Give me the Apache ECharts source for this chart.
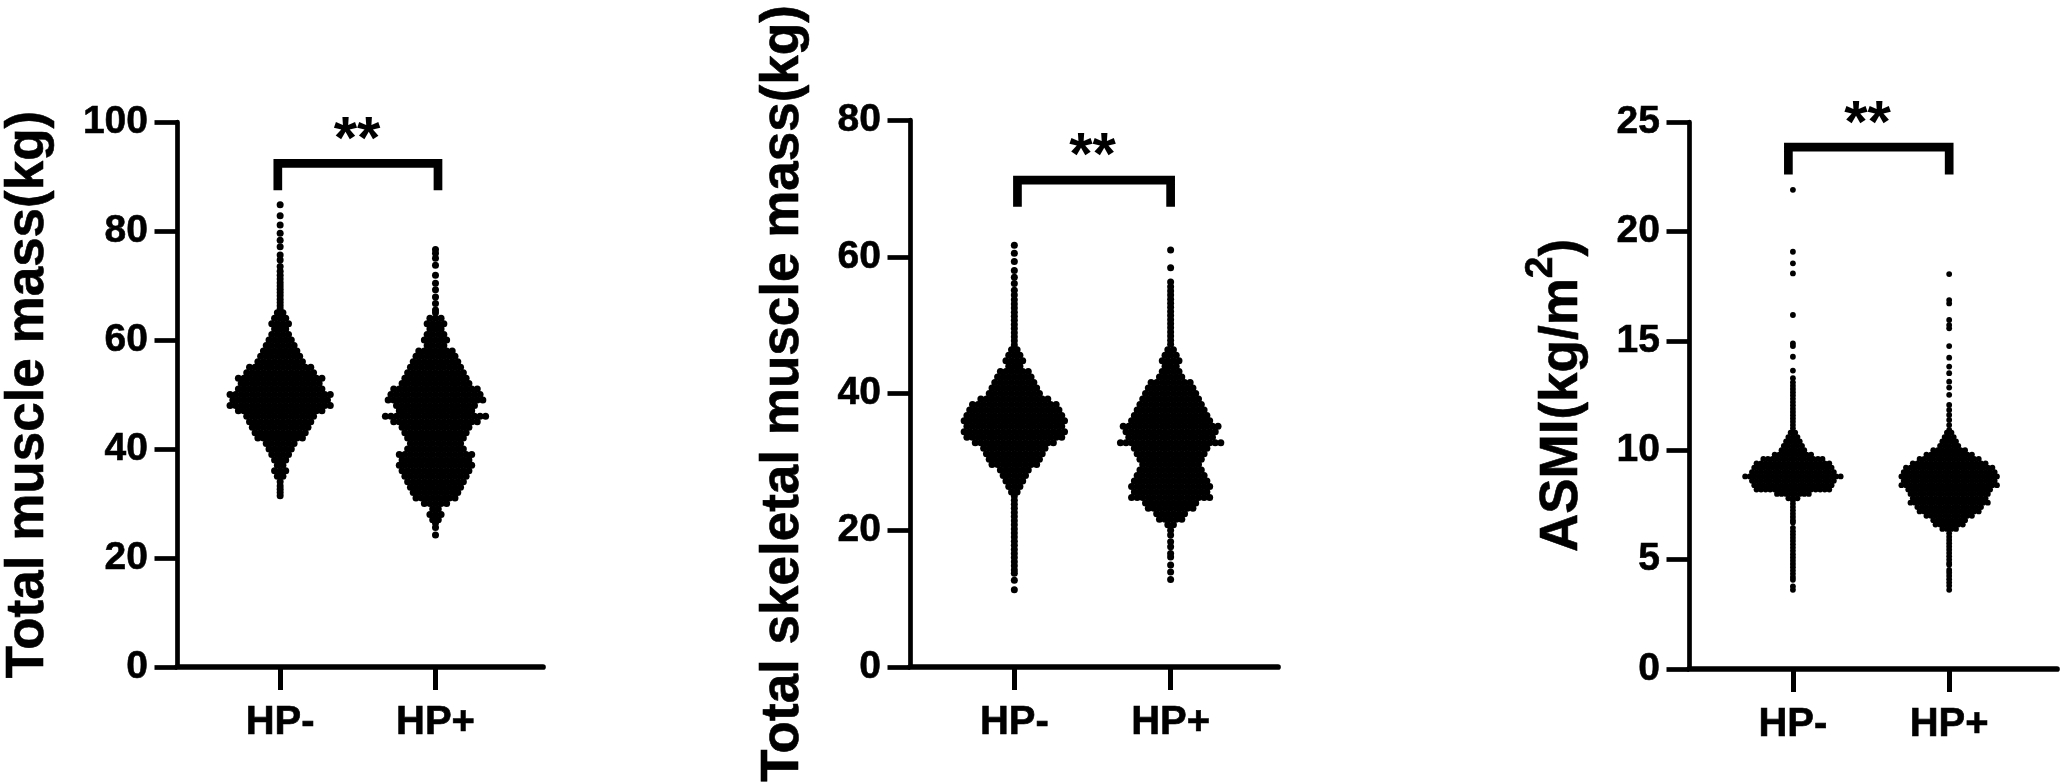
<!DOCTYPE html>
<html>
<head>
<meta charset="utf-8">
<title>Muscle mass by HP status</title>
<script src="https://cdn.jsdelivr.net/npm/echarts@6/dist/echarts.min.js"></script>
<style>
html, body { margin: 0; padding: 0; background: #fff; }
#main { width: 2062px; height: 782px; }
</style>
</head>
<body>
<div id="main"></div>
<script>
var categories = ['HP-', 'HP+'];

// every row is [value, number of dots at that value]
var tmmMinus = [[84.8,1],[82.8,1],[81.1,1],[79.6,1],[78.3,1],[77.1,1],[75.6,1],[74.7,1],[73.5,1],[72.6,1],[71.9,1],[71.2,1],[70.5,1],[69.9,1],[69.3,1],[68.7,1],[68.1,1],[67.5,1],[66.9,1],[66.3,1],[65.7,1],
	[65,2],[64,3],[63,4],[62,3],[61,4],[60,5],[59,6],[58,7],[57,8],[56,9],[55,12],[54,13],[53,16],[52,15],[51,16],[50,19],[49,18],[48,19],[47,16],[46,13],[45,12],[44,11],[43,10],[42,9],[41,6],[40,5],[39,4],[38,3],[37,2],[36,3],[35,2],[34,1],
	[33.2,1],[32.6,1],[32,1],[31.4,1]];
var tmmPlus = [[76.6,1],[75.9,1],[75,1],[73.7,1],[71.9,1],[70.4,1],[69.2,1],[67.9,1],[66.7,1],[65.5,1],[65,1],
	[64,3],[63,4],[62,3],[61,4],[60,5],[59,4],[58,7],[57,8],[56,9],[55,10],[54,11],[53,12],[52,13],[51,16],[50,17],[49,18],[48,15],[47,14],[46,19],[45,16],[44,13],[43,12],[42,11],[41,10],[40,11],[39,14],[38,13],[37,14],[36,13],[35,12],[34,11],[33,10],[32,9],[31,8],[30,5],[29,2],[28,3],[27,2],
	[26.4,1],[25.6,1],[24.2,1]];
var tsmMinus = [[61.7,1],[60.5,1],[59.3,1],[58,1],[57,1],[56.1,1],[55.1,1],[54.4,1],[53.7,1],[53.1,1],[52.5,1],[51.9,1],[51.3,1],[50.7,1],[50.1,1],[49.5,1],[48.9,1],[48.3,1],[47.7,1],[47.1,1],
	[46.4,2],[45.6,3],[44.8,4],[44,3],[43.2,6],[42.4,7],[41.6,8],[40.8,9],[40,10],[39.2,13],[38.4,16],[37.6,17],[36.8,18],[36,19],[35.2,18],[34.4,19],[33.6,18],[32.8,15],[32,12],[31.2,11],[30.4,10],[29.6,9],[28.8,6],[28,5],[27.2,4],[26.4,3],[25.6,2],
	[25,1],[24.4,1],[23.8,1],[23.2,1],[22.6,1],[22,1],[21.4,1],[20.8,1],[20.2,1],[19.6,1],[19,1],[18.4,1],[17.8,1],[17.2,1],[16.6,1],[16,1],[15.4,1],[14.8,1],[14.2,1],[13.7,1],[12.7,1],[11.3,1]];
var tsmPlus = [[61,1],[58.4,1],[56.3,1],[55.6,1],[55,1],[54.4,1],[53.8,1],[53.2,1],[52.6,1],[52,1],[51.4,1],[50.8,1],[50.2,1],[49.6,1],[49,1],[48.4,1],[47.8,1],[47.2,1],
	[46.4,2],[45.6,3],[44.8,4],[44,3],[43.2,4],[42.4,5],[41.6,8],[40.8,9],[40,10],[39.2,11],[38.4,12],[37.6,13],[36.8,14],[36,15],[35.2,18],[34.4,17],[33.6,16],[32.8,19],[32,14],[31.2,13],[30.4,12],[29.6,11],[28.8,12],[28,13],[27.2,14],[26.4,15],[25.6,14],[24.8,15],[24,10],[23.2,9],[22.4,6],[21.6,5],[20.8,2],[20,1],
	[19.3,1],[18.3,1],[17.6,1],[16.6,1],[16.1,1],[14.9,1],[13.9,1],[12.8,1]];
var asmiMinus = [[21.9,1],[19.07,1],[18.54,1],[18.08,1],[16.18,1],[14.88,1],[14.76,1],[14.27,1],[13.64,1],[13.29,1],[13.1,1],[12.95,1],[12.8,1],[12.65,1],[12.5,1],[12.35,1],[12.2,1],[12.05,1],[11.9,1],[11.75,1],[11.6,1],[11.45,1],[11.3,1],[11.15,1],[11,1],
	[10.8,2],[10.6,3],[10.4,4],[10.2,5],[10,6],[9.8,9],[9.6,14],[9.4,17],[9.2,18],[9,19],[8.8,22],[8.6,19],[8.4,18],[8.2,17],[8,8],[7.8,3],
	[7.7,1],[7.55,1],[7.4,1],[7.25,1],[7.1,1],[6.95,1],[6.8,1],[6.7,1],[6.45,1],[6.3,1],[6.15,1],[6,1],[5.85,1],[5.7,1],[5.55,1],[5.4,1],[5.25,1],[5.1,1],[4.95,1],[4.8,1],[4.65,1],[4.5,1],[4.35,1],[4.2,1],[4.08,1],[3.77,1],[3.62,1]];
var asmiPlus = [[18.05,1],[16.86,1],[16.71,1],[15.95,1],[15.72,1],[15.57,1],[14.76,1],[14.23,1],[13.82,1],[13.52,1],[13.13,1],[12.86,1],[12.53,1],[12.07,1],[11.84,1],[11.61,1],[11.38,1],[11.15,1],[10.93,1],
	[10.8,2],[10.6,3],[10.4,4],[10.2,5],[10,8],[9.8,11],[9.6,14],[9.4,17],[9.2,20],[9,21],[8.8,22],[8.6,21],[8.4,22],[8.2,19],[8,18],[7.8,17],[7.6,18],[7.4,15],[7.2,14],[7,11],[6.8,8],[6.6,7],[6.4,4],[6.2,1],
	[6.05,1],[5.9,1],[5.75,1],[5.6,1],[5.45,1],[5.3,1],[5.15,1],[5,1],[4.85,1],[4.76,1],[4.53,1],[4.4,1],[4.25,1],[4.1,1],[3.95,1],[3.8,1],[3.62,1]];

var panels = [{
	name : 'Total muscle mass(kg)', nameGap : 122,
	left : 177, right : 543, top : 122, bottom : 667,
	xMin : 0.336, xMax : 2.692, unit : 155.4, max : 100, interval : 20,
	dotStep : 5.57, dotSize : 7,
	rows : [tmmMinus, tmmPlus],
	bracket : [[0.985, 87.5], [0.985, 92.4], [2.016, 92.4], [2.016, 87.5]],
	stars : [1.495, 96.4]
}, {
	name : 'Total skeletal muscle mass(kg)', nameGap : 100,
	left : 910, right : 1278, top : 120, bottom : 667,
	xMin : 0.3325, xMax : 2.687, unit : 156.1, max : 80, interval : 20,
	dotStep : 5.57, dotSize : 7,
	rows : [tsmMinus, tsmPlus],
	bracket : [[1.02, 67.3], [1.02, 71.2], [2, 71.2], [2, 67.3]],
	stars : [1.5, 74.5]
}, {
	name : '{t|ASMI(kg/m}{s|2}{t|)}', nameGap : 87,
	left : 1689, right : 2057, top : 122, bottom : 669,
	xMin : 0.335, xMax : 2.69, unit : 156.3, max : 25, interval : 5,
	dotStep : 4.55, dotSize : 5.8,
	rows : [asmiMinus, asmiPlus],
	bracket : [[0.971, 22.6], [0.971, 23.85], [2, 23.85], [2, 22.6]],
	stars : [1.478, 24.83]
}];

var FONT = '"Liberation Sans", Arial, sans-serif';
var CHART_W = 2062, CHART_H = 782;

// spread the dots of each row sideways around the group position
function swarm(rows, group, step) {
	var pts = [];
	rows.forEach(function(r) {
		for (var k = 0; k < r[1]; k++) {
			pts.push([group + (k - (r[1] - 1) / 2) * step, r[0]]);
		}
	});
	return pts;
}

var grids = [], xAxes = [], yAxes = [], series = [];

panels.forEach(function(p, i) {
	grids.push({
		left : p.left,
		top : p.top,
		width : p.right - p.left,
		height : p.bottom - p.top,
		// the long y title runs to the page edge, do not let it shrink the grid
		outerBoundsMode : 'none'
	});
	xAxes.push({
		gridIndex : i,
		type : 'value',
		min : p.xMin,
		max : p.xMax,
		splitLine : { show : false },
		axisLine : { onZero : false, lineStyle : { color : '#000', width : 5.7 } },
		axisTick : { length : 23, lineStyle : { color : '#000', width : 5 }, customValues : [1, 2] },
		axisLabel : {
			margin : 36,
			color : '#000',
			fontFamily : FONT,
			fontWeight : 'bold',
			fontSize : 40,
			textBorderColor : '#000',
			textBorderWidth : 0.6,
			customValues : [1, 2],
			formatter : function(v) { return categories[v - 1]; }
		}
	});
	yAxes.push({
		gridIndex : i,
		type : 'value',
		min : 0,
		max : p.max,
		interval : p.interval,
		name : p.name,
		nameLocation : 'middle',
		nameRotate : 90,
		nameGap : p.nameGap,
		nameTextStyle : {
			color : '#000',
			fontFamily : FONT,
			fontWeight : 'bold',
			fontSize : 53,
			textBorderColor : '#000',
			textBorderWidth : 0.6,
			rich : {
				t : { color : '#000', fontFamily : FONT, fontWeight : 'bold', fontSize : 53, lineHeight : 80, textBorderColor : '#000', textBorderWidth : 0.6 },
				s : { color : '#000', fontFamily : FONT, fontWeight : 'bold', fontSize : 39, verticalAlign : 'top', lineHeight : 30 }
			}
		},
		splitLine : { show : false },
		axisLine : { onZero : false, lineStyle : { color : '#000', width : 4.7 } },
		axisTick : { length : 22.5, lineStyle : { color : '#000', width : 4.7 } },
		axisLabel : {
			margin : 29,
			color : '#000',
			fontFamily : FONT,
			fontWeight : 'bold',
			fontSize : 39,
			textBorderColor : '#000',
			textBorderWidth : 0.6
		}
	});
	p.rows.forEach(function(rows, g) {
		series.push({
			type : 'scatter',
			xAxisIndex : i,
			yAxisIndex : i,
			symbol : 'circle',
			symbolSize : p.dotSize,
			itemStyle : { color : '#000', opacity : 1 },
			silent : true,
			data : swarm(rows, g + 1, p.dotStep / p.unit)
		});
	});
	series.push({
		type : 'line',
		xAxisIndex : i,
		yAxisIndex : i,
		symbol : 'none',
		silent : true,
		clip : false,
		lineStyle : { color : '#000', width : 8.7, cap : 'butt', join : 'miter' },
		data : p.bracket
	});
	series.push({
		type : 'scatter',
		xAxisIndex : i,
		yAxisIndex : i,
		symbolSize : 0,
		silent : true,
		clip : false,
		itemStyle : { opacity : 1 },
		label : {
			show : true,
			position : 'inside',
			formatter : '**',
			color : '#000',
			fontFamily : FONT,
			fontWeight : 'bold',
			fontSize : 60
		},
		data : [p.stars]
	});
});

var myChart = echarts.init(document.getElementById('main'), null, { width : CHART_W, height : CHART_H, renderer : 'canvas' });

myChart.setOption({
	animation : false,
	backgroundColor : '#fff',
	grid : grids,
	xAxis : xAxes,
	yAxis : yAxes,
	series : series
});
</script>
</body>
</html>
